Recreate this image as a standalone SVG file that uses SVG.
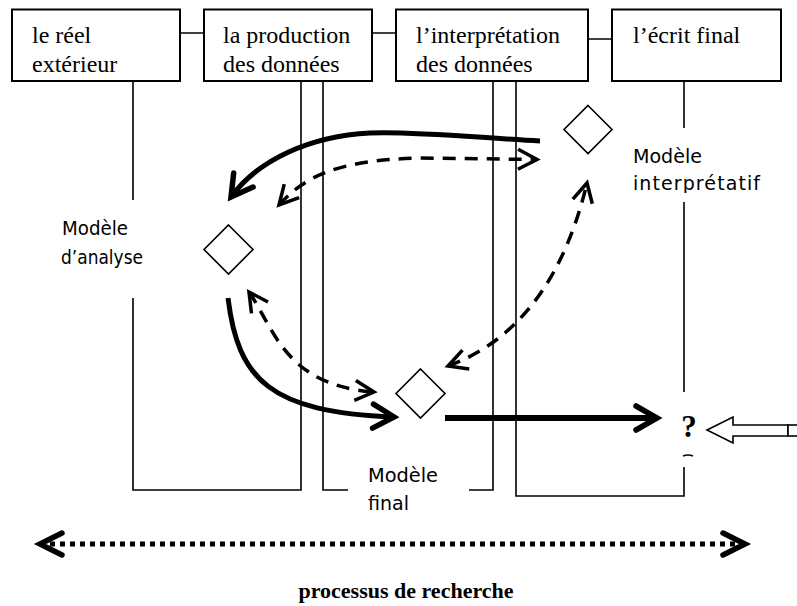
<svg xmlns="http://www.w3.org/2000/svg" width="797" height="606" viewBox="0 0 797 606">
<style>
.box{fill:#fff;stroke:#000;stroke-width:2}
.btxt{font-family:"Liberation Serif","Times New Roman",serif;font-size:24px;fill:#000}
.lbl{font-family:"DejaVu Sans","Noto Sans",sans-serif;font-size:19px;fill:#000}
.lane{fill:none;stroke:#000;stroke-width:1.6}
.dia{fill:#fff;stroke:#000;stroke-width:1.6}
.thick{fill:none;stroke:#000;stroke-width:5}
.dash{fill:none;stroke:#000;stroke-width:3.5;stroke-dasharray:13 9}
.dots{fill:none;stroke:#000;stroke-width:5;stroke-dasharray:5 5}
</style>
<defs>
<marker id="hThick" markerUnits="userSpaceOnUse" viewBox="-30 -20 40 40" markerWidth="40" markerHeight="40" refX="0" refY="0" orient="auto">
<path d="M-21,-12 L0,0 L-21,12" fill="none" stroke="#000" stroke-width="5.5" stroke-linecap="round" stroke-linejoin="miter"/>
</marker>
<marker id="hDash" markerUnits="userSpaceOnUse" viewBox="-30 -20 40 40" markerWidth="40" markerHeight="40" refX="0" refY="0" orient="auto-start-reverse">
<path d="M-19,-10 L0,0 L-19,10" fill="none" stroke="#000" stroke-width="3.5" stroke-linecap="butt" stroke-linejoin="miter"/>
</marker>
<marker id="hDot" markerUnits="userSpaceOnUse" viewBox="-30 -20 40 40" markerWidth="40" markerHeight="40" refX="0" refY="0" orient="auto-start-reverse">
<path d="M-22,-11 L0,0 L-22,11" fill="none" stroke="#000" stroke-width="5.5" stroke-linecap="round" stroke-linejoin="miter"/>
</marker>
<clipPath id="clipInterp"><rect x="620" y="120" width="177" height="73"/></clipPath>
</defs>

<g id="lanes">
<path class="lane" d="M180,33 H204 M372,33 H396 M588,39 H612"/>
<path class="lane" d="M133,81 V200 M133,298 V490 H301 V81"/>
<path class="lane" d="M323,81 V490 H348 M469,490 H493 V81"/>
<path class="lane" d="M684,81 V128 M684,202 V392 M684,467 V496 H516 V81"/>
</g>

<g id="box-reel">
<rect class="box" x="12" y="9.5" width="168" height="71.5"/>
<text class="btxt" x="32" y="43">le réel</text>
<text class="btxt" x="32" y="72">extérieur</text>
</g>
<g id="box-production">
<rect class="box" x="204" y="9.5" width="168" height="71.5"/>
<text class="btxt" x="223" y="43">la production</text>
<text class="btxt" x="223" y="72">des données</text>
</g>
<g id="box-interpretation">
<rect class="box" x="396" y="9.5" width="192" height="71.5"/>
<text class="btxt" x="416" y="43">l’interprétation</text>
<text class="btxt" x="416" y="72">des données</text>
</g>
<g id="box-ecrit">
<rect class="box" x="612" y="9.5" width="169" height="71.5"/>
<text class="btxt" x="633" y="43">l’écrit final</text>
</g>

<g id="modele-interpretatif">
<polygon class="dia" points="588,105.5 612,129.5 588,153.5 564,129.5"/>
<g clip-path="url(#clipInterp)">
<text class="lbl" x="633" y="163" textLength="69" lengthAdjust="spacingAndGlyphs">Modèle</text>
<text class="lbl" x="633" y="190" textLength="127" lengthAdjust="spacing">interprétatif</text>
</g>
</g>
<g id="modele-analyse">
<polygon class="dia" points="228.5,225 253,249.5 228.5,274 204,249.5"/>
<text class="lbl" x="62" y="235" textLength="66" lengthAdjust="spacingAndGlyphs">Modèle</text>
<text class="lbl" x="61" y="264" textLength="82" lengthAdjust="spacingAndGlyphs">d’analyse</text>
</g>
<g id="modele-final">
<polygon class="dia" points="420.5,369 445,393.5 420.5,418 396,393.5"/>
<text class="lbl" x="368" y="482" textLength="70" lengthAdjust="spacingAndGlyphs">Modèle</text>
<text class="lbl" x="368" y="510">final</text>
</g>
<g id="question">
<text x="689" y="437" text-anchor="middle" style="font-family:'Liberation Serif','Times New Roman',serif;font-size:31px;font-weight:bold">?</text>
<path d="M683,456 Q688,454 693,456" fill="none" stroke="#000" stroke-width="1.5"/>
<polygon points="707,430 733,417 733,425 788,425 788,436 733,436 733,443" fill="#fff" stroke="#000" stroke-width="1.6"/>
<rect x="788" y="425" width="12" height="11" fill="#fff" stroke="#000" stroke-width="1.6"/>
</g>

<g id="connectors">
<path class="thick" d="M540,141 C470,137 410,131 370,133 C310,136 258,160 231,197" marker-end="url(#hThick)"/>
<path class="dash" d="M279,205 C305,176 338,160 420,158 L537,159.5" marker-start="url(#hDash)" marker-end="url(#hDash)"/>
<path class="dash" d="M249,292 C275,330 285,385 374,392" marker-start="url(#hDash)" marker-end="url(#hDash)"/>
<path class="thick" d="M228,298 C238,380 270,412 394,417" marker-end="url(#hThick)"/>
<path class="dash" d="M448,366 C520,340 565,275 587,183" marker-start="url(#hDash)" marker-end="url(#hDash)"/>
<path class="thick" style="stroke-width:6" d="M445,418 H657" marker-end="url(#hThick)"/>
<path class="dots" d="M40,544 H745" marker-start="url(#hDot)" marker-end="url(#hDot)"/>
</g>

<text x="406" y="598" text-anchor="middle" style="font-family:'Liberation Serif','Times New Roman',serif;font-size:22px;font-weight:bold">processus de recherche</text>
</svg>
